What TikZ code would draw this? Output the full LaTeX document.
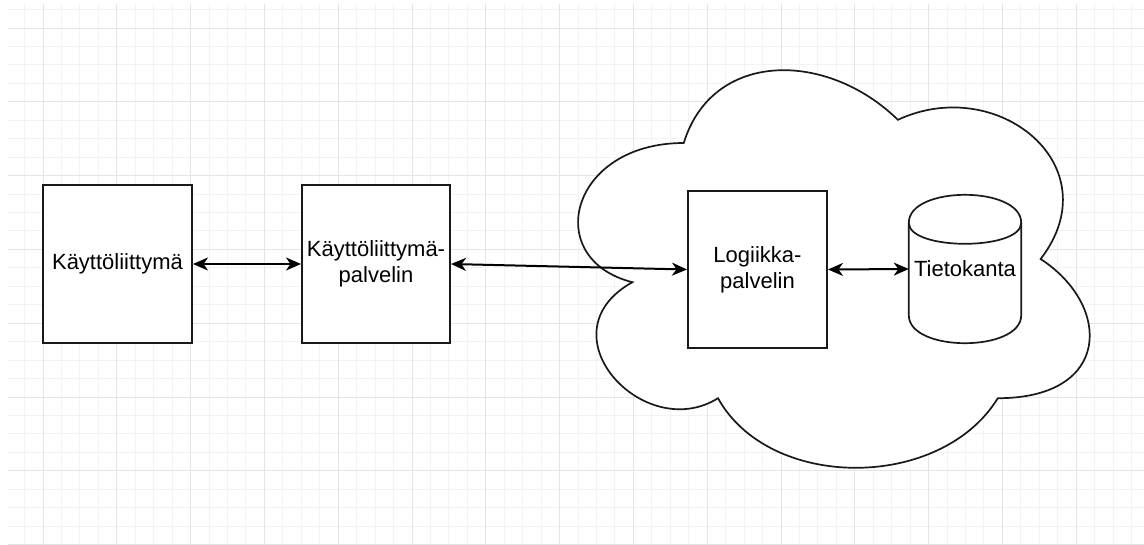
\documentclass[tikz,border=0pt]{standalone}
\usepackage{fontspec}
\setmainfont{Liberation Sans}
\usetikzlibrary{arrows.meta,calc}
\definecolor{minorgridc}{RGB}{243,243,243}
\definecolor{majorgridc}{RGB}{228,228,228}
\tikzset{
  minorgrid/.style={draw=minorgridc, line width=1pt},
  majorgrid/.style={draw=majorgridc, line width=1pt},
  boxnode/.style={draw=black!90, fill=white, line width=2pt, inner sep=0pt, align=center,
    font=\fontsize{22}{26}\selectfont},
  dbnode/.style={inner sep=0pt, align=center, font=\fontsize{22}{26}\selectfont},
  outline/.style={draw=black!90, line width=1.7pt},
  arr/.style={line width=2pt, draw=black,
    {Stealth[length=15pt,width=13pt,inset=4.5pt]}-{Stealth[length=15pt,width=13pt,inset=4.5pt]}}
}
\begin{document}
\begin{tikzpicture}[x=1pt,y=-1pt]
\useasboundingbox (0,0) rectangle (1144,544);
\fill[white] (0,0) rectangle (1144,544);
% grid
\begin{scope}
\clip (8,4) rectangle (1144,544);
\foreach \i in {-2,...,60} {
  \pgfmathsetmacro\gx{43+18.45*\i}
  \draw[minorgrid] (\gx,4) -- (\gx,544);
}
\foreach \i in {-2,...,30} {
  \pgfmathsetmacro\gy{28+18.45*\i}
  \draw[minorgrid] (8,\gy) -- (1144,\gy);
}
\foreach \i in {-1,...,15} {
  \pgfmathsetmacro\gx{43+73.8*\i}
  \draw[majorgrid] (\gx,4) -- (\gx,544);
}
\foreach \i in {-1,...,8} {
  \pgfmathsetmacro\gy{28+73.8*\i}
  \draw[majorgrid] (8,\gy) -- (1144,\gy);
}
\end{scope}
% cloud
\begin{scope}[shift={(541,27)}, xscale=571, yscale=464]
\draw[outline, fill=white] (0.25,0.25)
  .. controls (0.05,0.25) and (0,0.5) .. (0.16,0.55)
  .. controls (0,0.66) and (0.18,0.9) .. (0.31,0.8)
  .. controls (0.4,1) and (0.7,1) .. (0.8,0.8)
  .. controls (1,0.8) and (1,0.6) .. (0.875,0.5)
  .. controls (1,0.3) and (0.8,0.1) .. (0.625,0.2)
  .. controls (0.5,0.05) and (0.3,0.05) .. (0.25,0.25) -- cycle;
\end{scope}
% boxes
\node[boxnode, minimum width=149pt, minimum height=158pt] (ui) at (117.5,264) {Käyttöliittymä};
\node[boxnode, minimum width=148pt, minimum height=158pt] (uis) at (376,264) {Käyttöliittymä-\\palvelin};
\node[boxnode, minimum width=139pt, minimum height=157pt] (logic) at (757.5,269.5) {Logiikka-\\palvelin};
\node[dbnode, minimum width=112pt, minimum height=148pt] (db) at (965,269) {Tietokanta};
% cylinder outline
\draw[outline] ($(db.north west)+(0,28)$)
  .. controls ($(db.north west)+(0,-9.33)$) and ($(db.north east)+(0,-9.33)$) .. ($(db.north east)+(0,28)$)
  -- ($(db.south east)+(0,-28)$)
  .. controls ($(db.south east)+(0,9.33)$) and ($(db.south west)+(0,9.33)$) .. ($(db.south west)+(0,-28)$)
  -- cycle;
\draw[outline] ($(db.north west)+(0,28)$)
  .. controls ($(db.north west)+(0,56)$) and ($(db.north east)+(0,56)$) .. ($(db.north east)+(0,28)$);
% connectors
\draw[arr] (ui.east) -- (uis.west);
\draw[arr] (uis.east) -- (logic.west);
\draw[arr] (logic.east) -- (db.west);
\end{tikzpicture}
\end{document}
